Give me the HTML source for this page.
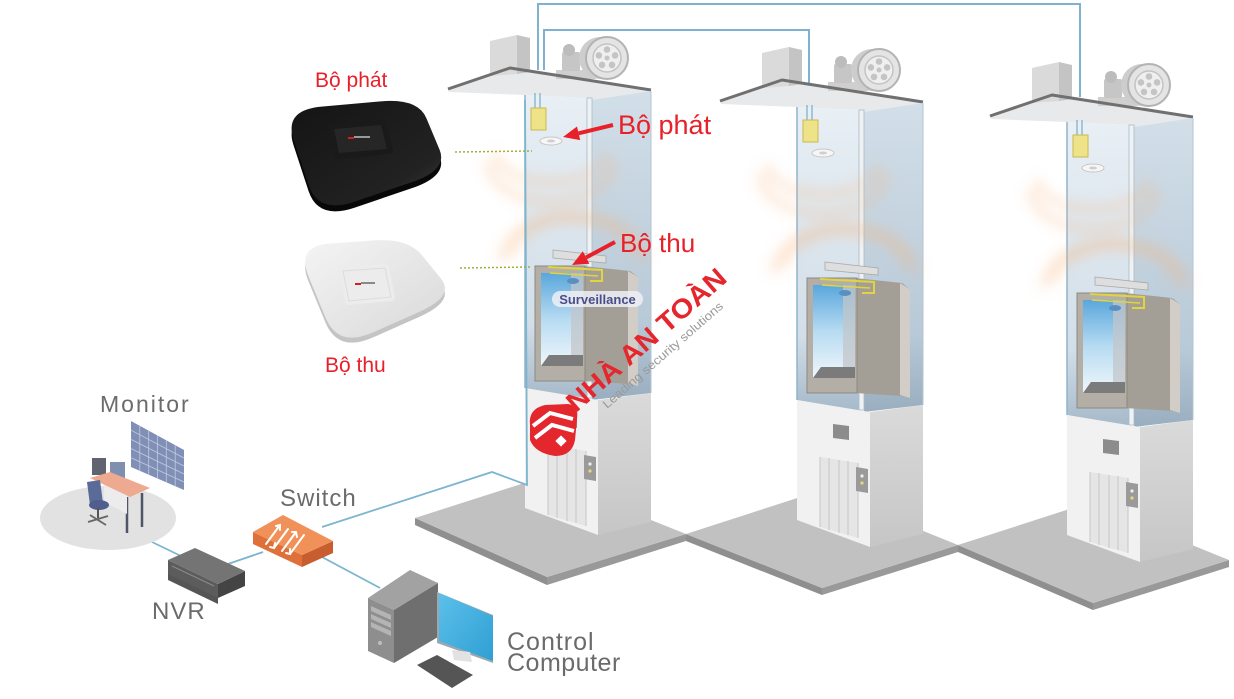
<!DOCTYPE html>
<html><head><meta charset="utf-8">
<style>
html,body{margin:0;padding:0;background:#fff;}
svg{display:block;}
text{font-family:"Liberation Sans",Arial,sans-serif;}
</style></head><body>
<svg width="1234" height="699" viewBox="0 0 1234 699" xmlns="http://www.w3.org/2000/svg" xmlns:xlink="http://www.w3.org/1999/xlink">
<defs>
<linearGradient id="shF" x1="0" y1="0" x2="0" y2="1"><stop offset="0" stop-color="#e8eff5"/><stop offset="0.75" stop-color="#d2dee8"/><stop offset="1" stop-color="#a5b9ca"/></linearGradient>
<linearGradient id="shS" x1="0" y1="0" x2="0" y2="1"><stop offset="0" stop-color="#d2dfe9"/><stop offset="0.75" stop-color="#b8c9d7"/><stop offset="1" stop-color="#99aec0"/></linearGradient>
<linearGradient id="win" x1="0" y1="0" x2="0" y2="1"><stop offset="0" stop-color="#5aa7dc"/><stop offset="0.5" stop-color="#b7dbf2"/><stop offset="1" stop-color="#eff7fb"/></linearGradient>
<linearGradient id="lbS" x1="0" y1="0" x2="0" y2="1"><stop offset="0" stop-color="#dadada"/><stop offset="1" stop-color="#c6c6c6"/></linearGradient>
<linearGradient id="scr" x1="0" y1="0" x2="1" y2="1"><stop offset="0" stop-color="#5cc0ea"/><stop offset="1" stop-color="#2f9fd4"/></linearGradient>
<linearGradient id="apw" x1="0" y1="0" x2="1" y2="1"><stop offset="0" stop-color="#f4f4f4"/><stop offset="1" stop-color="#d9d9d9"/></linearGradient>
<linearGradient id="apb" x1="0" y1="0" x2="1" y2="1"><stop offset="0" stop-color="#141414"/><stop offset="0.75" stop-color="#222222"/><stop offset="1" stop-color="#3c3c3c"/></linearGradient>
<filter id="bl" x="-50%" y="-50%" width="200%" height="200%"><feGaussianBlur stdDeviation="6"/></filter>

<g id="tower">
  <!-- roof slab -->
  <polygon points="448,89 510,68 651,90 651,93 592,101 588,98 525,95 449,92" fill="#e7e9eb"/>
  <!-- roof box -->
  <polygon points="490,41 517,35 517,74 490,76" fill="#dadada"/>
  <polygon points="517,35 530,38 530,72 517,74" fill="#c4c4c4"/>
  <!-- fan -->
  <rect x="556" y="70" width="40" height="9" fill="#cfcfcf"/>
  <rect x="562" y="52" width="18" height="19" rx="2" fill="#c6c6c6"/>
  <circle cx="569" cy="50" r="6" fill="#bcbcbc"/>
  <circle cx="600" cy="58" r="21" fill="#cdcdcd"/>
  <circle cx="607" cy="58" r="21" fill="#e4e4e4" stroke="#b3b3b3" stroke-width="2"/>
  <circle cx="607" cy="58" r="14" fill="#efefef" stroke="#c3c3c3" stroke-width="1.5"/>
  <g fill="#c4c4c4">
    <circle cx="607" cy="49.5" r="3.3"/><circle cx="615.1" cy="55.4" r="3.3"/><circle cx="612" cy="64.9" r="3.3"/><circle cx="602" cy="64.9" r="3.3"/><circle cx="598.9" cy="55.4" r="3.3"/><circle cx="607" cy="58" r="2.5"/>
  </g>
  <polyline points="448,89 510,68 651,90" fill="none" stroke="#707070" stroke-width="3" stroke-linejoin="round"/>
  <!-- shaft -->
  <polygon points="525,95 588,98 588,400 525,388" fill="url(#shF)"/>
  <polygon points="592,100 651,91 651,393 592,400" fill="url(#shS)"/>
  <rect x="587" y="98" width="5" height="300" fill="#eef2f5" stroke="#aab9c4" stroke-width="0.8"/>
  <line x1="525" y1="95" x2="525" y2="388" stroke="#8fb3cc" stroke-width="1.5"/>
  <line x1="651" y1="91" x2="651" y2="393" stroke="#b3c5d2" stroke-width="1"/>
  <!-- glow -->
  <g fill="none" stroke="#f7b27a" stroke-opacity="0.28" stroke-width="9" filter="url(#bl)">
    <path d="M496,152 A55,30 0 0 0 606,152"/>
    <path d="M488,162 A63,40 0 0 0 614,162"/>
    <path d="M513,256 A60,36 0 0 1 633,256"/>
    <path d="M502,262 A71,48 0 0 1 644,262"/>
  </g>
  <!-- transmitter -->
  <line x1="535" y1="93" x2="535" y2="109" stroke="#7fb2cc" stroke-width="1.3"/>
  <line x1="540" y1="93" x2="540" y2="109" stroke="#7fb2cc" stroke-width="1.3"/>
  <rect x="531" y="108" width="15" height="22" fill="#eee389" stroke="#c9b94f" stroke-width="1"/>
  <ellipse cx="551" cy="141" rx="11" ry="4" fill="#f6f6f6" stroke="#c6c6c6" stroke-width="1"/>
  <ellipse cx="551" cy="141" rx="4" ry="1.5" fill="#cfcfcf"/>
  <!-- car -->
  <polygon points="553,250 606,256 606,263 553,258" fill="#dedede" stroke="#a9a9a9" stroke-width="0.8"/>
  <polygon points="583,266 630,271 638,277 638,386 630,384 583,381" fill="#a39f97"/>
  <polygon points="628,271 638,277 638,386 628,383" fill="#d2cec7"/>
  <rect x="535" y="266" width="50" height="115" fill="#b3afa7" stroke="#8d8982" stroke-width="1"/>
  <rect x="541" y="273" width="42" height="93" fill="url(#win)"/>
  <polygon points="571,273 583,273 583,366 571,358" fill="#c3c6c9" opacity="0.75"/>
  <polygon points="541,366 549,355 583,355 583,366" fill="#7b7b7b"/>
  <polyline points="548,267 602,270 602,281 590,281" fill="none" stroke="#e2d43c" stroke-width="2"/>
  <line x1="550" y1="273" x2="598" y2="276" stroke="#e2d43c" stroke-width="1.5"/>
  <ellipse cx="573" cy="281" rx="6" ry="3" fill="#5b8fc0"/>
  <!-- lower box -->
  <polygon points="525,388 598,400 598,535 525,508" fill="#f1f1f1"/>
  <polygon points="598,400 651,393 651,522 598,535" fill="url(#lbS)"/>
  <polygon points="548,445 586,451 586,526 548,515" fill="#e5e5e5"/>
  <g stroke="#c6c6c6" stroke-width="1">
    <line x1="548" y1="445" x2="548" y2="515"/>
    <line x1="557" y1="446" x2="557" y2="518"/>
    <line x1="567" y1="448" x2="567" y2="521"/>
    <line x1="576" y1="449" x2="576" y2="523"/>
    <line x1="586" y1="451" x2="586" y2="526"/>
  </g>
  <polygon points="561,412 577,414 577,428 561,426" fill="#8c8c8c"/>
  <polygon points="584,455 596,457 596,481 584,479" fill="#9a9a9a"/>
  <circle cx="590" cy="464" r="1.6" fill="#eeeeee"/>
  <circle cx="590" cy="471" r="1.6" fill="#e6d77a"/>
</g>
</defs>

<rect width="1234" height="699" fill="#ffffff"/>

<!-- floors -->
<g>
  <polygon points="415,518 547,577 547,585 415,525" fill="#8f8f8f"/>
  <polygon points="547,577 686,534 686,541 547,585" fill="#999999"/>
  <polygon points="415,518 543,477 686,534 547,577" fill="#c1c1c1"/>

  <polygon points="686,534 822,588 822,595 686,541" fill="#8f8f8f"/>
  <polygon points="822,588 958,545 958,552 822,595" fill="#999999"/>
  <polygon points="686,534 822,490 958,545 822,588" fill="#c1c1c1"/>

  <polygon points="958,545 1093,603 1093,610 958,552" fill="#8f8f8f"/>
  <polygon points="1093,603 1229,560 1229,567 1093,610" fill="#999999"/>
  <polygon points="958,545 1088,503 1229,560 1093,603" fill="#c1c1c1"/>
</g>

<!-- top cables -->
<polyline points="538,70 538,4 1080,4 1080,97" fill="none" stroke="#7fb2cc" stroke-width="2"/>
<polyline points="544,70 544,30 809,30 809,84" fill="none" stroke="#7fb2cc" stroke-width="2"/>

<!-- towers -->
<use xlink:href="#tower" href="#tower"/>
<use xlink:href="#tower" href="#tower" transform="translate(272,12)"/>
<use xlink:href="#tower" href="#tower" transform="translate(542,27)"/>

<!-- tower1 cable -->
<polyline points="322,527 492,472 527,485 525,100" fill="none" stroke="#7cb5cf" stroke-width="1.8"/>

<!-- surveillance pill -->
<rect x="552" y="291" width="91" height="16" rx="8" fill="#eef0f6" opacity="0.85"/>
<text x="597.5" y="304" font-size="13" font-weight="bold" fill="#4b4d8a" text-anchor="middle">Surveillance</text>

<!-- logo watermark -->
<path d="M530,425 Q528,409 545,405 L568,404 Q579,405 577,419 L575,440 Q572,456 555,456 Q535,453 530,440 Z" fill="#e4262d"/>
<polyline points="533,426 550,413 573,419" fill="none" stroke="#ffffff" stroke-width="4"/>
<polyline points="535,438 552,425 574,431" fill="none" stroke="#ffffff" stroke-width="4"/>
<rect x="557" y="437" width="8" height="8" fill="#ffffff" transform="rotate(45 561 441)"/>
<text transform="translate(576,413) rotate(-41)" font-size="27" font-weight="bold" fill="#e4262d" textLength="202" lengthAdjust="spacingAndGlyphs">NHÀ AN TOÀN</text>
<text transform="translate(607,409) rotate(-41)" font-size="12" fill="#9a9a9a" textLength="155" lengthAdjust="spacingAndGlyphs">Leading security solutions</text>

<!-- dotted links -->
<line x1="455" y1="152" x2="532" y2="151" stroke="#9bb040" stroke-width="1.5" stroke-dasharray="2,2"/>
<line x1="460" y1="268" x2="530" y2="267" stroke="#9bb040" stroke-width="1.5" stroke-dasharray="2,2"/>

<!-- red arrows and labels -->
<line x1="613" y1="125" x2="578.6" y2="133.3" stroke="#e8202a" stroke-width="4"/>
<polygon points="563,137 580.2,140.1 577,126.5" fill="#e8202a"/>
<line x1="615" y1="242" x2="586.1" y2="257.5" stroke="#e8202a" stroke-width="4"/>
<polygon points="572,265 589.4,263.7 582.8,251.3" fill="#e8202a"/>
<text x="618" y="134" font-size="27" fill="#e8202a">Bộ phát</text>
<text x="620" y="252" font-size="26" fill="#e8202a">Bộ thu</text>

<!-- Left access points -->
<text x="315" y="87" font-size="21" fill="#e8202a">Bộ phát</text>
<path transform="translate(0,6)" d="M321.5,106.6 L380.5,101.4 Q418,98 426.4,118.2 L439.6,149.8 Q448,170 411.6,182.3 L354.4,201.7 Q318,214 308.5,184.9 L293.5,139.1 Q284,110 321.5,106.6 Z" fill="#080808"/>
<path d="M321.5,106.6 L380.5,101.4 Q418,98 426.4,118.2 L439.6,149.8 Q448,170 411.6,182.3 L354.4,201.7 Q318,214 308.5,184.9 L293.5,139.1 Q284,110 321.5,106.6 Z" fill="url(#apb)"/>
<polygon points="332,128 382,124 389,150 338,155" fill="#1a1a1a" stroke="#1a1a1a" stroke-width="8" stroke-linejoin="round"/>
<polygon points="334,129 381,125 387,149 339,153" fill="#262626"/>
<rect x="348" y="137" width="6" height="2" fill="#d02020"/>
<rect x="354" y="136" width="16" height="2" fill="#9a9a9a"/>

<path transform="translate(0,5)" d="M329.6,243.6 L374.4,240.4 Q408,238 422.1,255.4 L440.9,278.6 Q455,296 419.9,311.6 L373.1,332.4 Q338,348 325.4,317.4 L308.6,276.6 Q296,246 329.6,243.6 Z" fill="#c4c4c4"/>
<path d="M329.6,243.6 L374.4,240.4 Q408,238 422.1,255.4 L440.9,278.6 Q455,296 419.9,311.6 L373.1,332.4 Q338,348 325.4,317.4 L308.6,276.6 Q296,246 329.6,243.6 Z" fill="url(#apw)"/>
<polygon points="343,271 385,268 391,297 349,301" fill="#ececec" stroke="#ececec" stroke-width="8" stroke-linejoin="round"/>
<polygon points="343,271 385,268 391,297 349,301" fill="none" stroke="#dcdcdc" stroke-width="1"/>
<rect x="355" y="283" width="6" height="2" fill="#d02020"/>
<rect x="361" y="282" width="14" height="2" fill="#8a8a8a"/>
<text x="325" y="372" font-size="21" fill="#e8202a">Bộ thu</text>

<!-- network cables -->
<g stroke="#7cb5cf" stroke-width="1.8" fill="none">
  <line x1="152" y1="542" x2="183" y2="557"/>
  <line x1="225" y1="565" x2="263" y2="552"/>
  <line x1="322" y1="557" x2="380" y2="588"/>
</g>

<!-- Monitor room -->
<ellipse cx="108" cy="518" rx="68" ry="32" fill="#e2e2e2"/>
<polygon points="131,421 184,450 184,490 131,467" fill="#7f8fb6"/>
<g stroke="#c3cbe0" stroke-width="0.8">
  <line x1="139.8" y1="425.8" x2="139.8" y2="470.8"/>
  <line x1="148.7" y1="430.7" x2="148.7" y2="474.7"/>
  <line x1="157.5" y1="435.5" x2="157.5" y2="478.5"/>
  <line x1="166.3" y1="440.3" x2="166.3" y2="482.3"/>
  <line x1="175.2" y1="445.2" x2="175.2" y2="486.2"/>
  <line x1="131" y1="430.2" x2="184" y2="458"/>
  <line x1="131" y1="439.4" x2="184" y2="466"/>
  <line x1="131" y1="448.6" x2="184" y2="474"/>
  <line x1="131" y1="457.8" x2="184" y2="482"/>
</g>
<rect x="92" y="458" width="14" height="17" fill="#5f6470"/>
<rect x="110" y="462" width="15" height="17" fill="#7e8fb0"/>
<line x1="127" y1="497" x2="127" y2="533" stroke="#4e5566" stroke-width="2.5"/>
<line x1="142" y1="493" x2="142" y2="527" stroke="#4e5566" stroke-width="2.5"/>
<polygon points="104,482 127,494 127,514 104,502" fill="#ececec"/>
<polygon points="90,478 110,472 150,488 130,497" fill="#eeaa90"/>
<polygon points="87,482 100,480 103,503 90,505" fill="#5a6a99"/>
<ellipse cx="99" cy="505" rx="10" ry="5" fill="#4f5e8c"/>
<line x1="98" y1="508" x2="98" y2="518" stroke="#555" stroke-width="2"/>
<g stroke="#666" stroke-width="1.8">
  <line x1="88" y1="522" x2="108" y2="516"/>
  <line x1="90" y1="515" x2="106" y2="525"/>
</g>
<text x="100" y="412" font-size="23" fill="#6b6b6b" letter-spacing="2">Monitor</text>

<!-- NVR -->
<polygon points="168,572 218,596 218,604 168,580" fill="#555555"/>
<polygon points="168,560 218,584 218,598 168,574" fill="#5c5c5c"/>
<polygon points="218,584 245,571 245,586 218,598" fill="#444444"/>
<polygon points="168,560 195,548 245,571 218,584" fill="#747474"/>
<line x1="172" y1="566" x2="214" y2="586" stroke="#8a8a8a" stroke-width="1"/>
<text x="152" y="619" font-size="24" fill="#6b6b6b" letter-spacing="1">NVR</text>

<!-- Switch -->
<polygon points="253,532 302,555 302,567 253,544" fill="#e0703a"/>
<polygon points="302,555 333,541 333,553 302,567" fill="#c85e30"/>
<polygon points="253,532 283,515 333,541 302,555" fill="#f0915a"/>
<g stroke="#ffffff" stroke-width="2" fill="none" stroke-linecap="round">
  <line x1="266" y1="544" x2="280" y2="525"/>
  <line x1="274" y1="548" x2="288" y2="529"/>
  <line x1="282" y1="551" x2="296" y2="532"/>
  <line x1="290" y1="554" x2="304" y2="535"/>
  <polyline points="276,526 280,525 280,530"/>
  <polyline points="270,547 274,548 275,543"/>
  <polyline points="292,532 296,532 297,537"/>
  <polyline points="286,553 290,554 290,549"/>
</g>
<text x="280" y="506" font-size="24" fill="#6b6b6b" letter-spacing="1">Switch</text>

<!-- Control computer -->
<polygon points="368,598 410,570 438,583 394,610" fill="#a2a2a2"/>
<polygon points="368,598 394,610 394,663 368,651" fill="#8e8e8e"/>
<polygon points="394,610 438,583 438,637 394,663" fill="#6f6f6f"/>
<g fill="#b4b4b4">
  <polygon points="371,606 391,615 391,620 371,611"/>
  <polygon points="371,614 391,623 391,628 371,619"/>
  <polygon points="371,622 391,631 391,636 371,627"/>
</g>
<circle cx="380" cy="643" r="2" fill="#bdbdbd"/>
<polygon points="437,592 493,615 493,663 437,643" fill="#9aa8b0"/>
<polygon points="439,593 493,616 493,661 439,641" fill="url(#scr)"/>
<polygon points="452,650 470,652 472,662 454,660" fill="#e2e2e2"/>
<polygon points="417,665 437,655 473,675 452,688" fill="#555555"/>
<text x="507" y="650" font-size="25" fill="#6b6b6b" letter-spacing="1">Control</text>
<text x="507" y="671" font-size="25" fill="#6b6b6b" letter-spacing="0.5">Computer</text>
</svg>
</body></html>
